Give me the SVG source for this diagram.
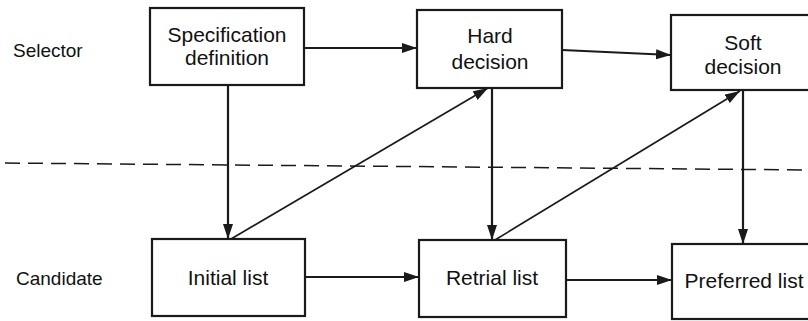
<svg xmlns="http://www.w3.org/2000/svg" width="808" height="321" viewBox="0 0 808 321">
  <style>
    .box { fill: #ffffff; stroke: #1a1a1a; stroke-width: 2.2; }
    .lbl { font-family: "Liberation Sans", Arial, sans-serif; font-size: 21px; fill: #111111; text-anchor: middle; }
    .side { font-family: "Liberation Sans", Arial, sans-serif; font-size: 19px; fill: #111111; }
    .wire { fill: none; stroke: #1a1a1a; stroke-width: 2.2; marker-end: url(#arrow); }
    .thin { stroke-width: 1.7; }
    .divider { fill: none; stroke: #1a1a1a; stroke-width: 1.5; stroke-dasharray: 15 8; }
  </style>
  <defs>
    <marker id="arrow" markerUnits="userSpaceOnUse" markerWidth="16" markerHeight="11" refX="15" refY="5" orient="auto">
      <path d="M0,0 L15,5 L0,10 z" fill="#1a1a1a"/>
    </marker>
  </defs>
  <rect width="808" height="321" fill="#ffffff"/>

  <!-- lane labels -->
  <text class="side" x="13" y="57">Selector</text>
  <text class="side" x="16" y="285">Candidate</text>

  <!-- lane boundary -->
  <path class="divider" d="M5,163 L808,170"/>

  <!-- connectors -->
  <g id="connectors">
    <path class="wire" d="M304,48 L417,48"/>
    <path class="wire" d="M562,50 L671,55"/>
    <path class="wire" d="M228,86 L228,239"/>
    <path class="wire thin" d="M231,239 L488,88"/>
    <path class="wire" d="M492,88 L492,240"/>
    <path class="wire thin" d="M495,240 L740,91"/>
    <path class="wire" d="M743,90 L743,244"/>
    <path class="wire" d="M305,277 L419,277"/>
    <path class="wire" d="M566,280 L672,280"/>
  </g>

  <!-- selector row -->
  <g id="spec-definition">
    <rect class="box" x="150" y="8" width="154" height="77"/>
    <text class="lbl" x="227" y="42">Specification</text>
    <text class="lbl" x="227" y="65">definition</text>
  </g>
  <g id="hard-decision">
    <rect class="box" x="417" y="10" width="145" height="78"/>
    <text class="lbl" x="490" y="43">Hard</text>
    <text class="lbl" x="490" y="69">decision</text>
  </g>
  <g id="soft-decision">
    <rect class="box" x="671" y="15" width="146" height="75"/>
    <text class="lbl" x="743" y="50">Soft</text>
    <text class="lbl" x="743" y="74">decision</text>
  </g>

  <!-- candidate row -->
  <g id="initial-list">
    <rect class="box" x="152" y="239" width="153" height="77"/>
    <text class="lbl" x="228" y="285">Initial list</text>
  </g>
  <g id="retrial-list">
    <rect class="box" x="419" y="240" width="147" height="77"/>
    <text class="lbl" x="492" y="285">Retrial list</text>
  </g>
  <g id="preferred-list">
    <rect class="box" x="672" y="244" width="146" height="75"/>
    <text class="lbl" x="744" y="288">Preferred list</text>
  </g>
</svg>
